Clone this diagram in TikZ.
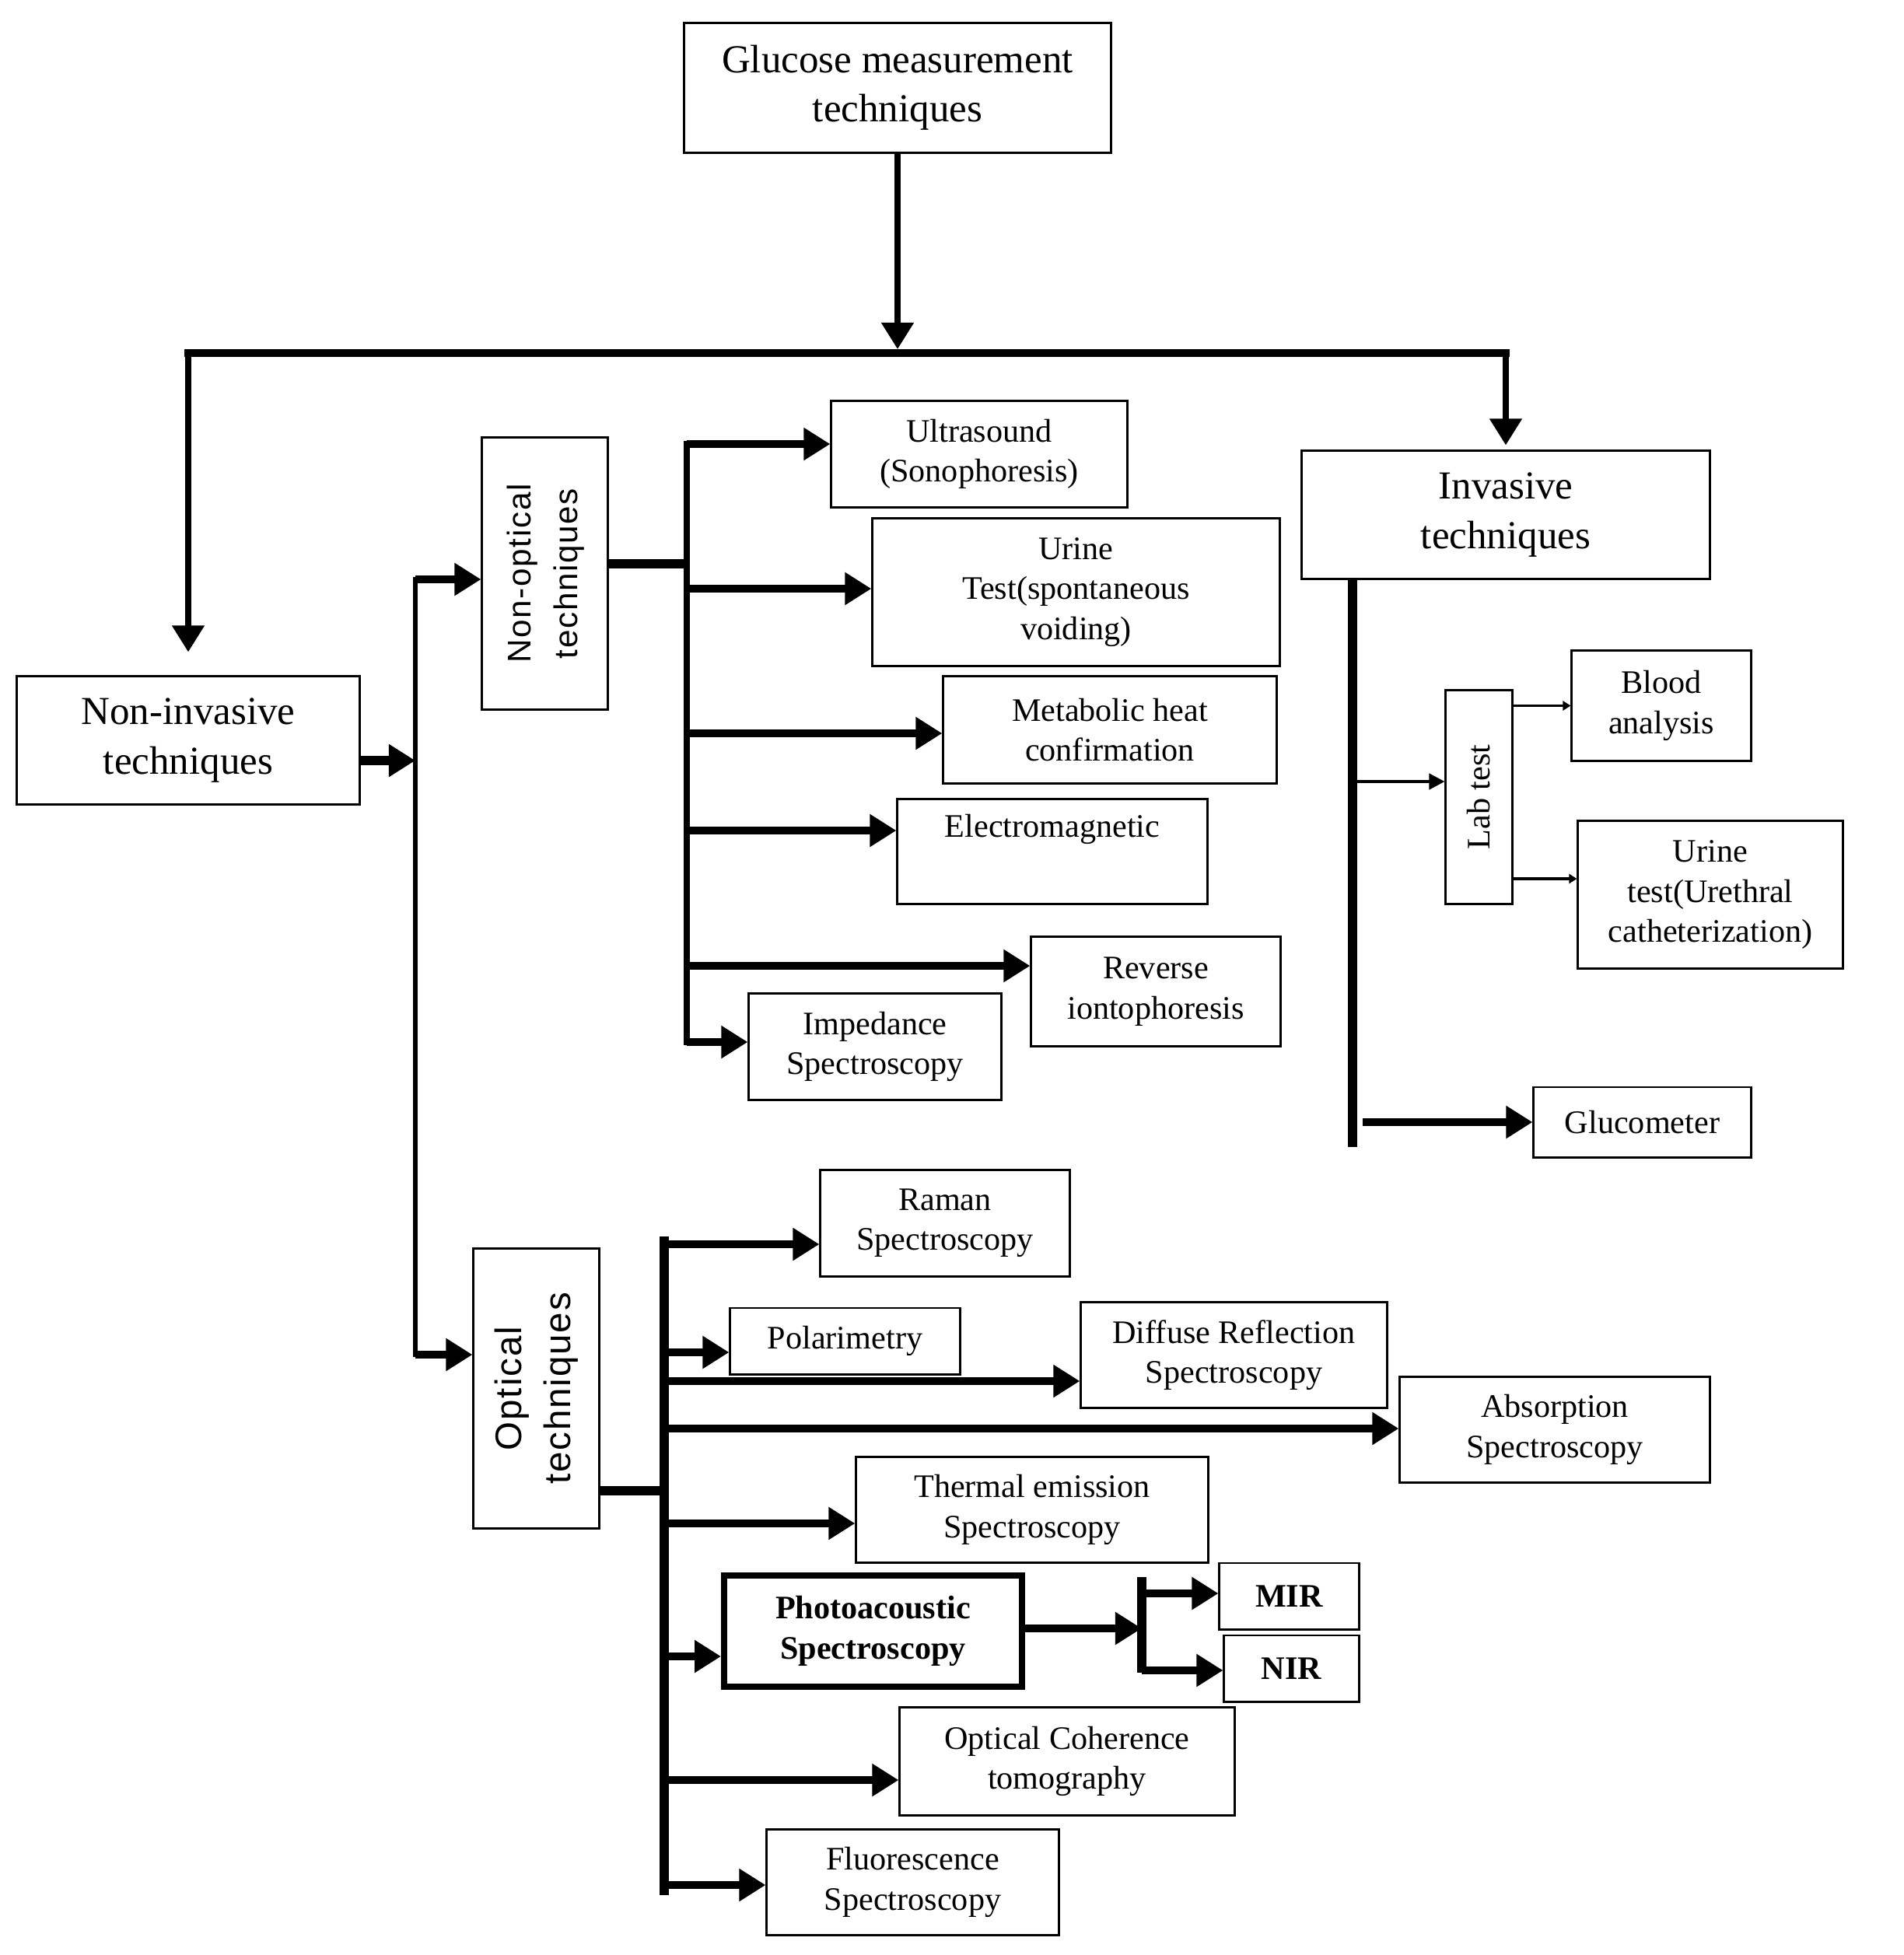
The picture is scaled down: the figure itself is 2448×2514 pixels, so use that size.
\documentclass[tikz,border=0pt]{standalone}
\usepackage{fontspec}
\setmainfont{Liberation Serif}
\newfontfamily\sansls[LetterSpace=4]{Liberation Sans}
\usepackage{graphicx}
\usetikzlibrary{arrows.meta}
\newcommand\fmain{\fontsize{14.5}{18}\selectfont}
\newcommand\fleaf{\fontsize{12}{14.6}\selectfont}
\begin{document}
\begin{tikzpicture}[x=0.01cm,y=-0.01cm,
  box/.style={draw, line width=0.85pt, inner sep=2pt, align=center, font=\fleaf},
  mainbox/.style={box, font=\fmain},
  boldbox/.style={box, font=\fleaf\bfseries},
  bigtip/.style={-{Triangle[length=0.34cm,width=0.40cm]}},
  arr/.style={bigtip, line width=3pt},
  smallarr/.style={-{Triangle[length=0.2cm,width=0.2cm]}, line width=1.2pt},
  tinyarr/.style={-{Triangle[length=0.1cm,width=0.12cm]}, line width=0.9pt},
  trunk/.style={line width=3.2pt, line cap=rect}
]
\useasboundingbox (0,0) rectangle (2448,2514);

% ---------- nodes ----------
\node[mainbox, minimum width=5.48cm, minimum height=1.66cm] (glu) at (1154,113) {Glucose measurement\\techniques};
\node[mainbox, minimum width=4.40cm, minimum height=1.64cm] (ninv) at (242,952) {Non-invasive\\techniques};
\node[mainbox, minimum width=5.24cm, minimum height=1.64cm] (inv) at (1936,662) {Invasive\\techniques};

\node[box, minimum width=1.61cm, minimum height=3.49cm] (nopt) at (700.5,737.5)
  {\rotatebox{90}{\sansls\fontsize{12}{17}\selectfont\begin{tabular}{@{}c@{}}Non-optical\\techniques\end{tabular}}};
\node[box, minimum width=1.61cm, minimum height=3.59cm] (opt) at (689.5,1785.5)
  {\rotatebox{90}{\sansls\fontsize{13.5}{18}\selectfont\begin{tabular}{@{}c@{}}Optical\\techniques\end{tabular}}};

% non-optical leaves
\node[box, minimum width=3.80cm, minimum height=1.36cm] (ultra) at (1259,584) {Ultrasound\\(Sonophoresis)};
\node[box, minimum width=5.23cm, minimum height=1.89cm] (urine1) at (1383.5,761.5) {Urine\\Test(spontaneous\\voiding)};
\node[box, minimum width=4.28cm, minimum height=1.37cm] (meta) at (1427,938.5) {Metabolic heat\\confirmation};
\node[box, minimum width=3.98cm, minimum height=1.34cm] (em) at (1353,1095) {Electromagnetic\\\strut};
\node[box, minimum width=3.20cm, minimum height=1.40cm] (rev) at (1486,1275) {Reverse\\iontophoresis};
\node[box, minimum width=3.24cm, minimum height=1.36cm] (imp) at (1125,1346) {Impedance\\Spectroscopy};

% invasive leaves
\node[box, minimum width=0.85cm, minimum height=2.74cm] (lab) at (1901.5,1025)
  {\rotatebox{90}{\fleaf Lab test}};
\node[box, minimum width=2.30cm, minimum height=1.41cm] (blood) at (2136,907.5) {Blood\\analysis};
\node[box, minimum width=3.40cm, minimum height=1.89cm] (urine2) at (2199,1150.5) {Urine\\test(Urethral\\catheterization)};
\node[box, minimum width=2.79cm, minimum height=0.90cm] (gm) at (2111.5,1443) {Glucometer};

% optical leaves
\node[box, minimum width=3.20cm, minimum height=1.36cm] (raman) at (1215,1573) {Raman\\Spectroscopy};
\node[box, minimum width=2.95cm, minimum height=0.85cm] (pol) at (1086.5,1724.5) {Polarimetry};
\node[box, minimum width=3.93cm, minimum height=1.35cm] (diff) at (1586.5,1742.5) {Diffuse Reflection\\Spectroscopy};
\node[box, minimum width=3.98cm, minimum height=1.35cm] (abs) at (1999,1838.5) {Absorption\\Spectroscopy};
\node[box, minimum width=4.52cm, minimum height=1.35cm] (therm) at (1327,1941.5) {Thermal emission\\Spectroscopy};
\node[boldbox, line width=2.2pt, minimum width=3.83cm, minimum height=1.43cm] (pa) at (1122.5,2097.5) {Photoacoustic\\Spectroscopy};
\node[boldbox, minimum width=1.79cm, minimum height=0.85cm] (mir) at (1657.5,2052.5) {MIR};
\node[boldbox, minimum width=1.73cm, minimum height=0.85cm] (nir) at (1660.5,2145.5) {NIR};
\node[box, minimum width=4.30cm, minimum height=1.38cm] (oct) at (1372,2265) {Optical Coherence\\tomography};
\node[box, minimum width=3.75cm, minimum height=1.35cm] (fl) at (1173.5,2420.5) {Fluorescence\\Spectroscopy};

% ---------- top distribution ----------
\coordinate (bm) at (1154,454);
\coordinate (bl) at (242,454);
\coordinate (br) at (1936,454);
\draw[line width=3pt, line cap=rect] (bl) -- (br);
\draw[bigtip, line width=2.2pt] (glu.south) -- ([yshift=0.05cm]bm);
\draw[bigtip, line width=2.2pt] (bl) -- ([yshift=0.3cm]ninv.north);
\draw[bigtip, line width=2.2pt] (br) -- ([yshift=0.06cm]inv.north);

% ---------- non-invasive ----------
\coordinate (nj) at (534,978);
\coordinate (njt) at (534,745);
\coordinate (njb) at (534,1742);
\draw[line width=1.9pt, line cap=rect] (njt) -- (njb);
\draw[arr, line width=3.4pt] (ninv.east |- nj) -- (nj);
\draw[arr] (njt) -- (njt -| nopt.west);
\draw[arr] (njb) -- (njb -| opt.west);

% ---------- non-optical ----------
\coordinate (nt) at (883,725);
\coordinate (n1) at (883,571);
\coordinate (n2) at (883,757);
\coordinate (n3) at (883,943);
\coordinate (n4) at (883,1068);
\coordinate (n5) at (883,1242);
\coordinate (n6) at (883,1340);
\draw[line width=3.6pt] (nopt.east |- nt) -- (nt);
\draw[line width=2.4pt, line cap=rect] (n1) -- (n6);
\draw[arr] (n1) -- (n1 -| ultra.west);
\draw[arr] (n2) -- (n2 -| urine1.west);
\draw[arr] (n3) -- (n3 -| meta.west);
\draw[arr] (n4) -- (n4 -| em.west);
\draw[arr] (n5) -- (n5 -| rev.west);
\draw[arr] (n6) -- (n6 -| imp.west);

% ---------- invasive ----------
\coordinate (i0) at (1739,744);
\coordinate (i1) at (1739,1475);
\coordinate (il) at (1739,1005);
\coordinate (lu) at (1944,1130);
\coordinate (ig) at (1752,1443);
\draw[line width=3.4pt] (i0) -- (i1);
\draw[smallarr] (il) -- (il -| lab.west);
\draw[tinyarr] (blood.west -| lab.east) -- (blood.west);
\draw[tinyarr, line width=1.2pt] (lu) -- (lu -| urine2.west);
\draw[arr] (ig) -- (ig -| gm.west);

% ---------- optical ----------
\coordinate (ot) at (854,1917);
\coordinate (o0) at (854,1590);
\coordinate (o9) at (854,2437);
\coordinate (o1) at (854,1600);
\coordinate (o2) at (854,1739);
\coordinate (o3) at (854,1776);
\coordinate (o4) at (854,1837);
\coordinate (o5) at (854,1959);
\coordinate (o6) at (854,2130);
\coordinate (o7) at (854,2289);
\coordinate (o8) at (854,2424);
\draw[line width=3.6pt] (opt.east |- ot) -- (ot);
\draw[line width=3.2pt] (o0) -- (o9);
\draw[arr] (o1) -- (o1 -| raman.west);
\draw[arr] (o2) -- (o2 -| pol.west);
\draw[arr] (o3) -- (o3 -| diff.west);
\draw[arr] (o4) -- (o4 -| abs.west);
\draw[arr] (o5) -- (o5 -| therm.west);
\draw[arr] (o6) -- (o6 -| pa.west);
\draw[arr] (o7) -- (o7 -| oct.west);
\draw[arr] (o8) -- (o8 -| fl.west);

% photoacoustic sub-branch
\coordinate (pj) at (1468,2094);
\coordinate (pt) at (1468,2028);
\coordinate (pb) at (1468,2151);
\coordinate (pm) at (1468,2049);
\coordinate (pn) at (1468,2148);
\draw[line width=3.4pt] (pt) -- (pb);
\draw[arr] (pa.east |- pj) -- (pj);
\draw[arr] (pm) -- (pm -| mir.west);
\draw[arr] (pn) -- (pn -| nir.west);
\end{tikzpicture}
\end{document}
